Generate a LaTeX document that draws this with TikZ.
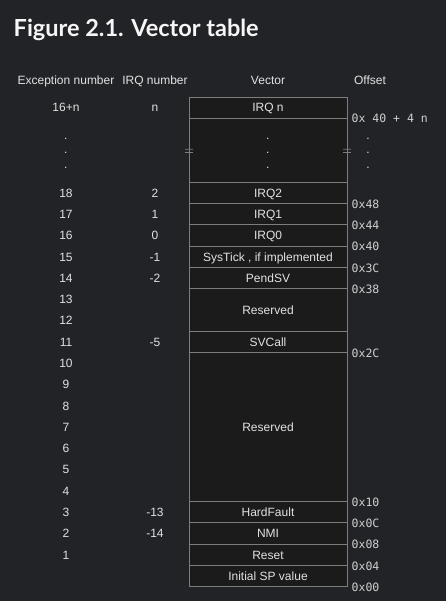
\documentclass[tikz,border=0pt]{standalone}
\usepackage{fontspec}
\setmainfont{Liberation Sans}
\newfontfamily\titlefont{Lato}
\newfontfamily\offfont{DejaVu Sans Mono}
\definecolor{bg}{HTML}{222327}
\definecolor{cellbg}{HTML}{1B1B1B}
\definecolor{edge}{HTML}{7D7D7D}
\definecolor{txt}{HTML}{E2E2E2}
\definecolor{offtxt}{HTML}{CFCFCF}
\begin{document}
\begin{tikzpicture}[x=1pt,y=-1pt,
  cell/.style={draw=edge, line width=1pt, fill=cellbg, minimum width=158pt, inner sep=0pt, text=txt, text height=8.6pt, text depth=0pt, font=\fontsize{12}{14}\selectfont},
  lbl/.style={text=txt, inner sep=0pt, text height=8.6pt, text depth=0pt, font=\fontsize{12}{14}\selectfont},
  off/.style={text=offtxt, inner sep=0pt, anchor=west, text height=8.4pt, text depth=0pt, font=\offfont\fontsize{11.5}{13}\selectfont},
  dotlbl/.style={text=txt, inner sep=0pt, font=\fontsize{12}{14}\selectfont},
  brk/.style={draw=edge, line width=0.8pt}]
\fill[bg] (0,0) rectangle (446,601);
\useasboundingbox (0,0) rectangle (446,601);
% title
\node[anchor=base west, inner sep=0pt, text=white!93!gray, font=\titlefont\bfseries\fontsize{23.5}{28}\selectfont] (title) at (13.5,37) {Figure 2.1. Vector table};
% headers
\node[lbl] (hexc) at (66,80) {Exception number};
\node[lbl] (hirq) at (155,80) {IRQ number};
\node[lbl] (hvec) at (268,80) {Vector};
\node[lbl] (hoff) at (370,80) {Offset};
% cells: top 97, row height 21.29
\node[cell, minimum height=21.29pt] (irqn) at (268,107.65) {IRQ n};
\node[cell, minimum height=63.87pt] (dots) at (268,150.24) {};
\node[cell, minimum height=21.29pt] (irq2) at (268,192.83) {IRQ2};
\node[cell, minimum height=21.29pt] (irq1) at (268,214.12) {IRQ1};
\node[cell, minimum height=21.29pt] (irq0) at (268,235.41) {IRQ0};
\node[cell, minimum height=21.29pt] (systick) at (268,256.70) {SysTick , if implemented};
\node[cell, minimum height=21.29pt] (pendsv) at (268,277.99) {PendSV};
\node[cell, minimum height=42.58pt] (res1) at (268,309.92) {Reserved};
\node[cell, minimum height=21.29pt] (svcall) at (268,341.86) {SVCall};
\node[cell, minimum height=149.03pt] (res2) at (268,427.01) {Reserved};
\node[cell, minimum height=21.29pt] (hard) at (268,512.17) {HardFault};
\node[cell, minimum height=21.29pt] (nmi) at (268,533.46) {NMI};
\node[cell, minimum height=21.29pt] (reset) at (268,554.75) {Reset};
\node[cell, minimum height=21.29pt] (sp) at (268,576.04) {Initial SP value};
% dots inside vector column
\node[dotlbl] (vd1) at (267.7,138.5) {.};
\node[dotlbl] (vd2) at (267.7,152.5) {.};
\node[dotlbl] (vd3) at (267.7,167.5) {.};
% break marks
\draw[brk] (185,149.2) .. controls (188,148.2) and (190,150.2) .. (193,149.2);
\draw[brk] (185,152.4) .. controls (188,151.4) and (190,153.4) .. (193,152.4);
\draw[brk] (343,149.2) .. controls (346,148.2) and (348,150.2) .. (351,149.2);
\draw[brk] (343,152.4) .. controls (346,151.4) and (348,153.4) .. (351,152.4);
% exception numbers
\node[lbl] (e16n) at (66,107.65) {16+n};
\node[dotlbl] (ed1) at (65.7,138.5) {.};
\node[dotlbl] (ed2) at (65.7,152.5) {.};
\node[dotlbl] (ed3) at (65.7,167.5) {.};
\node[lbl] (e18) at (66,192.83) {18};
\node[lbl] (e17) at (66,214.12) {17};
\node[lbl] (e16) at (66,235.41) {16};
\node[lbl] (e15) at (66,256.70) {15};
\node[lbl] (e14) at (66,277.99) {14};
\node[lbl] (e13) at (66,299.28) {13};
\node[lbl] (e12) at (66,320.57) {12};
\node[lbl] (e11) at (66,341.86) {11};
\node[lbl] (e10) at (66,363.15) {10};
\node[lbl] (e9) at (66,384.44) {9};
\node[lbl] (e8) at (66,405.73) {8};
\node[lbl] (e7) at (66,427.02) {7};
\node[lbl] (e6) at (66,448.31) {6};
\node[lbl] (e5) at (66,469.60) {5};
\node[lbl] (e4) at (66,490.89) {4};
\node[lbl] (e3) at (66,512.17) {3};
\node[lbl] (e2) at (66,533.46) {2};
\node[lbl] (e1) at (66,554.75) {1};
% IRQ numbers
\node[lbl] (in) at (155,107.65) {n};
\node[lbl] (i2) at (155,192.83) {2};
\node[lbl] (i1) at (155,214.12) {1};
\node[lbl] (i0) at (155,235.41) {0};
\node[lbl] (im1) at (155,256.70) {-1};
\node[lbl] (im2) at (155,277.99) {-2};
\node[lbl] (im5) at (155,341.86) {-5};
\node[lbl] (im13) at (155,512.17) {-13};
\node[lbl] (im14) at (155,533.46) {-14};
% offsets
\node[off] (on) at (351.5,118.8) {0x 40 + 4 n};
\node[dotlbl] (od1) at (368,138.5) {.};
\node[dotlbl] (od2) at (368,152.5) {.};
\node[dotlbl] (od3) at (368,167.5) {.};
\node[off] (o48) at (351.5,204) {0x48};
\node[off] (o44) at (351.5,225.3) {0x44};
\node[off] (o40) at (351.5,246.6) {0x40};
\node[off] (o3c) at (351.5,267.9) {0x3C};
\node[off] (o38) at (351.5,289.1) {0x38};
\node[off] (o2c) at (351.5,353) {0x2C};
\node[off] (o10) at (351.5,502) {0x10};
\node[off] (o0c) at (351.5,523.3) {0x0C};
\node[off] (o08) at (351.5,544.6) {0x08};
\node[off] (o04) at (351.5,565.9) {0x04};
\node[off] (o00) at (351.5,587.2) {0x00};
\end{tikzpicture}
\end{document}
